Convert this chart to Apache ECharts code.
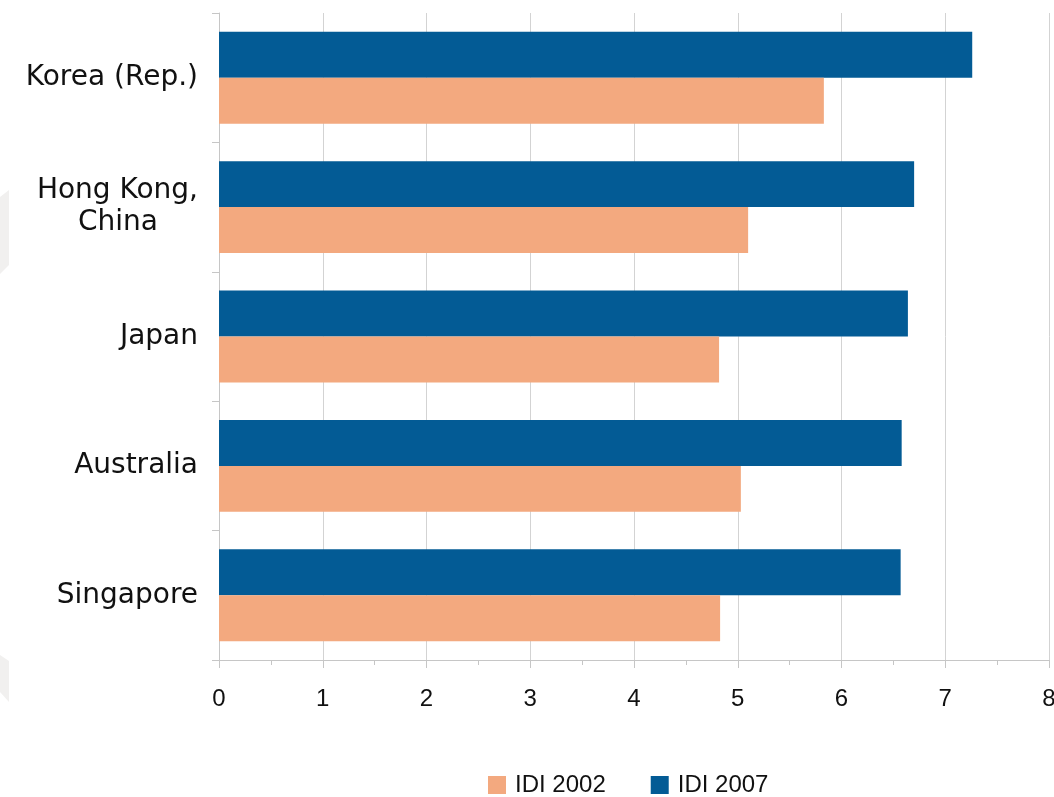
<!DOCTYPE html>
<html>
<head>
<meta charset="utf-8">
<title>IDI 2002 and 2007</title>
<script src="https://cdn.jsdelivr.net/npm/echarts@6/dist/echarts.min.js"></script>
<style>
  html, body { margin: 0; padding: 0; background: #ffffff; }
  #chart { width: 1054px; height: 797px; }
</style>
</head>
<body>
<div id="chart"></div>
<script>
// Economies, listed top to bottom
const categories = ['Korea (Rep.)', 'Hong Kong, China', 'Japan', 'Australia', 'Singapore'];
// ICT Development Index values
const idi2002 = [5.83, 5.10, 4.82, 5.03, 4.83];
const idi2007 = [7.26, 6.70, 6.64, 6.58, 6.57];
// Value axis tick range
const xMin = 0, xMax = 8, xStep = 1;

const chart = echarts.init(document.getElementById('chart'), null, { renderer: 'canvas' });

const labelFont = '"DejaVu Sans", Verdana, sans-serif';
const numFont = '"Liberation Sans", Arial, sans-serif';
const axisGrey = '#c6c6c6';

chart.setOption({
  backgroundColor: '#ffffff',
  animation: false,
  graphic: [
    // faint decorative shapes along the left edge
    {
      type: 'polygon', silent: true, z: -1,
      shape: { points: [[0, 197], [9, 190], [9, 265], [0, 274]] },
      style: { fill: '#f1f0ef' }
    },
    {
      type: 'polygon', silent: true, z: -1,
      shape: { points: [[0, 655], [9, 661], [9, 702], [0, 692]] },
      style: { fill: '#f1f0ef' }
    }
  ],
  grid: { left: 219, right: 5, top: 13, bottom: 137, containLabel: false, outerBoundsMode: 'none' },
  legend: {
    data: ['IDI 2002', 'IDI 2007'],
    left: 488,
    top: 773,
    padding: 0,
    itemWidth: 18,
    itemHeight: 18,
    itemGap: 45,
    icon: 'rect',
    textStyle: { fontFamily: numFont, fontSize: 24, color: '#111111', padding: [0, 0, 0, 4] }
  },
  xAxis: {
    type: 'value',
    min: xMin,
    max: xMax,
    interval: xStep,
    axisLine: { show: true, lineStyle: { color: axisGrey, width: 1 } },
    axisTick: { show: true, length: 8, lineStyle: { color: axisGrey } },
    minorTick: { show: true, splitNumber: 2, length: 5, lineStyle: { color: axisGrey } },
    splitLine: { show: true, lineStyle: { color: '#d3d3d3', width: 1 } },
    axisLabel: { fontFamily: numFont, fontSize: 24, color: '#111111', margin: 27 }
  },
  yAxis: {
    type: 'category',
    data: categories,
    inverse: true,
    axisLine: { show: true, lineStyle: { color: axisGrey, width: 1 } },
    axisTick: { show: true, length: 7, lineStyle: { color: axisGrey } },
    splitLine: { show: false },
    axisLabel: {
      fontFamily: labelFont,
      fontSize: 28,
      color: '#111111',
      margin: 21,
      lineHeight: 32,
      formatter: function (v) {
        if (v === 'Hong Kong, China') return 'Hong Kong,\n{c|China}';
        return v;
      },
      rich: {
        c: { fontFamily: labelFont, fontSize: 28, color: '#111111', lineHeight: 32, padding: [0, 40, 0, 0] }
      }
    }
  },
  series: [
    {
      name: 'IDI 2007',
      type: 'bar',
      data: idi2007,
      barGap: '0%',
      barCategoryGap: '29%',
      itemStyle: { color: '#035b95' }
    },
    {
      name: 'IDI 2002',
      type: 'bar',
      data: idi2002,
      barGap: '0%',
      barCategoryGap: '29%',
      itemStyle: { color: '#f3a97f' }
    }
  ]
});
</script>
</body>
</html>
